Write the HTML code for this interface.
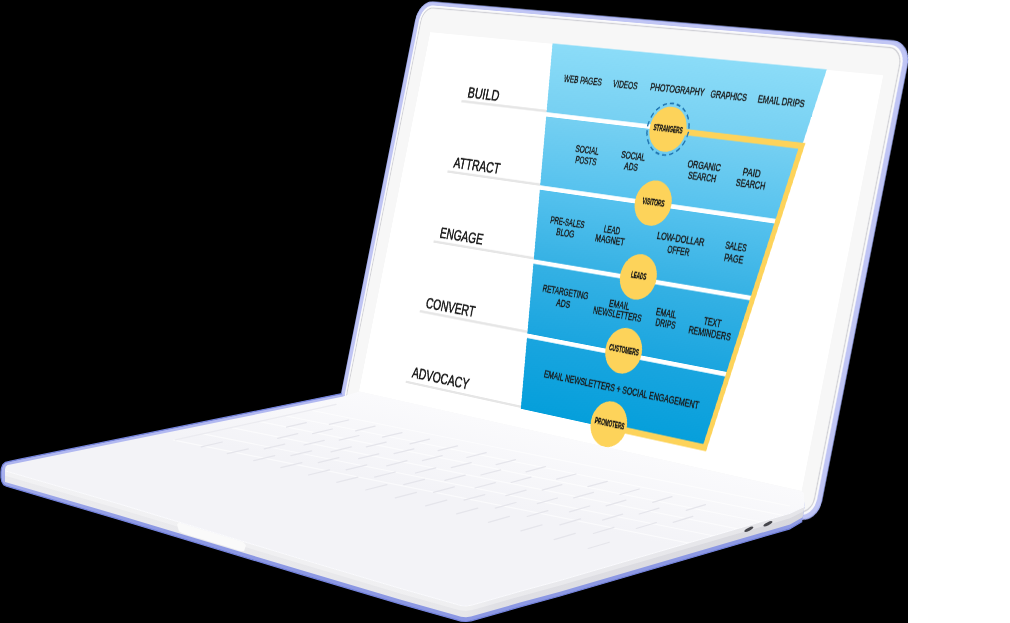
<!DOCTYPE html>
<html><head><meta charset="utf-8"><style>
html,body{margin:0;padding:0;width:1010px;height:623px;overflow:hidden;background:#fff}
#bgsvg,#basesvg{position:absolute;left:0;top:0}
#scr{position:absolute;left:0;top:0;width:920px;height:640px;transform-origin:0 0;transform:matrix3d(0.4120272573,0.04057232813,0,-0.0001678867163,-0.1423758421,0.7096603439,0,-3.459271089e-06,0,0,1,0,409.6971044,-13.14500077,0,1)}
</style></head><body>
<svg id="bgsvg" width="1010" height="623"><rect x="0" y="0" width="908" height="623" fill="#000"/></svg>
<div id="scr"><svg width="920" height="640" viewBox="0 0 920 640" style="font-family:'Liberation Sans',sans-serif"><rect x="24.5" y="17.5" width="869" height="576" rx="28" fill="#a3adee"/><rect x="26" y="19" width="866" height="573" rx="27" fill="#c0c5f4"/><rect x="32.5" y="23" width="853" height="565" rx="23" fill="#fafafb"/><rect x="36.5" y="26.5" width="845" height="558" rx="20" fill="#f7f7f7" stroke="#d0d0d5" stroke-width="1.7"/><rect x="60" y="60" width="800" height="500" fill="#ffffff"/><defs><linearGradient id="bg" gradientUnits="userSpaceOnUse" x1="0" y1="60" x2="0" y2="536"><stop offset="0" stop-color="#8bdcf8"/><stop offset="0.195" stop-color="#76d0f2"/><stop offset="0.397" stop-color="#56c2ee"/><stop offset="0.6" stop-color="#35b1e4"/><stop offset="0.8" stop-color="#1aa5df"/><stop offset="1" stop-color="#059fdb"/></linearGradient></defs><line x1="148.5" y1="148.8" x2="315.27092288242727" y2="148.8" stroke="#e6e6e6" stroke-width="3.2"/><line x1="148.5" y1="245.3" x2="330.2359460598399" y2="245.3" stroke="#e6e6e6" stroke-width="3.2"/><line x1="148.5" y1="341.3" x2="345.1234302570586" y2="341.3" stroke="#e6e6e6" stroke-width="3.2"/><line x1="148.5" y1="436.9" x2="359.9488832701222" y2="436.9" stroke="#e6e6e6" stroke-width="3.2"/><line x1="148.5" y1="533.5" x2="374.92941424357355" y2="533.5" stroke="#e6e6e6" stroke-width="3.2"/><polygon points="299.5,59.5 772.3,59.5 695.7,536.0 373.3,536.0" fill="url(#bg)"/><line x1="312.9377581120944" y1="153.1" x2="533" y2="153.1" stroke="#ffffff" stroke-width="5.8"/><line x1="327.8252423093131" y1="249.1" x2="741.8548999999999" y2="249.1" stroke="#ffffff" stroke-width="5.8"/><line x1="342.80577328276445" y1="345.7" x2="726.3023" y2="345.7" stroke="#ffffff" stroke-width="5.8"/><line x1="357.72427307206067" y1="441.9" x2="710.8140999999999" y2="441.9" stroke="#ffffff" stroke-width="5.8"/><polygon points="533.0,150.8 761.6,150.8 700.5,538.5 532.0,538.5 532.0,530.6 694.0,530.6 752.2,158.5 533.0,158.5" fill="#fdd35a"/><ellipse cx="533.6" cy="153.7" rx="35.5" ry="33" fill="none" stroke="#1f74b0" stroke-width="2.2" stroke-dasharray="7 5"/><ellipse cx="533.6" cy="153.7" rx="31.5" ry="28.8" fill="#fdd35a"/><ellipse cx="533.2" cy="248.3" rx="31.5" ry="28.8" fill="#fdd35a"/><ellipse cx="532.8" cy="342.9" rx="31.5" ry="28.8" fill="#fdd35a"/><ellipse cx="532.6" cy="437.4" rx="31.5" ry="28.8" fill="#fdd35a"/><ellipse cx="532.0" cy="531.4" rx="31.5" ry="28.8" fill="#fdd35a"/><text x="157.8" y="143" font-size="20.5" font-weight="400" textLength="61.6" lengthAdjust="spacingAndGlyphs" fill="#1a1a1a" stroke="#1a1a1a" stroke-width="0.7">BUILD</text><text x="157.8" y="239" font-size="20.5" font-weight="400" textLength="90.0" lengthAdjust="spacingAndGlyphs" fill="#1a1a1a" stroke="#1a1a1a" stroke-width="0.7">ATTRACT</text><text x="157.8" y="335" font-size="20.5" font-weight="400" textLength="84.6" lengthAdjust="spacingAndGlyphs" fill="#1a1a1a" stroke="#1a1a1a" stroke-width="0.7">ENGAGE</text><text x="157.8" y="431" font-size="20.5" font-weight="400" textLength="96.3" lengthAdjust="spacingAndGlyphs" fill="#1a1a1a" stroke="#1a1a1a" stroke-width="0.7">CONVERT</text><text x="157.8" y="526" font-size="20.5" font-weight="400" textLength="112.0" lengthAdjust="spacingAndGlyphs" fill="#1a1a1a" stroke="#1a1a1a" stroke-width="0.7">ADVOCACY</text><text x="333.6" y="108" font-size="12.5" font-weight="400" textLength="69.1" lengthAdjust="spacingAndGlyphs" fill="#1a1a1a" stroke="#1a1a1a" stroke-width="0.5">WEB PAGES</text><text x="423.3" y="108" font-size="12.5" font-weight="400" textLength="43.6" lengthAdjust="spacingAndGlyphs" fill="#1a1a1a" stroke="#1a1a1a" stroke-width="0.5">VIDEOS</text><text x="489.5" y="107.5" font-size="12.5" font-weight="400" textLength="93.6" lengthAdjust="spacingAndGlyphs" fill="#1a1a1a" stroke="#1a1a1a" stroke-width="0.5">PHOTOGRAPHY</text><text x="593.7" y="108" font-size="12.5" font-weight="400" textLength="60.8" lengthAdjust="spacingAndGlyphs" fill="#1a1a1a" stroke="#1a1a1a" stroke-width="0.5">GRAPHICS</text><text x="672.8" y="108" font-size="12.5" font-weight="400" textLength="75.6" lengthAdjust="spacingAndGlyphs" fill="#1a1a1a" stroke="#1a1a1a" stroke-width="0.5">EMAIL DRIPS</text><text x="379.3" y="197.5" font-size="12.5" font-weight="400" textLength="42.3" lengthAdjust="spacingAndGlyphs" fill="#1a1a1a" stroke="#1a1a1a" stroke-width="0.5">SOCIAL</text><text x="383.0" y="211" font-size="12.5" font-weight="400" textLength="38.3" lengthAdjust="spacingAndGlyphs" fill="#1a1a1a" stroke="#1a1a1a" stroke-width="0.5">POSTS</text><text x="462.3" y="197.5" font-size="12.5" font-weight="400" textLength="42.2" lengthAdjust="spacingAndGlyphs" fill="#1a1a1a" stroke="#1a1a1a" stroke-width="0.5">SOCIAL</text><text x="471.6" y="211" font-size="12.5" font-weight="400" textLength="23.8" lengthAdjust="spacingAndGlyphs" fill="#1a1a1a" stroke="#1a1a1a" stroke-width="0.5">ADS</text><text x="578.4" y="198" font-size="12.5" font-weight="400" textLength="56.1" lengthAdjust="spacingAndGlyphs" fill="#1a1a1a" stroke="#1a1a1a" stroke-width="0.5">ORGANIC</text><text x="583.0" y="212.5" font-size="12.5" font-weight="400" textLength="47.1" lengthAdjust="spacingAndGlyphs" fill="#1a1a1a" stroke="#1a1a1a" stroke-width="0.5">SEARCH</text><text x="671.2" y="199.5" font-size="12.5" font-weight="400" textLength="29.5" lengthAdjust="spacingAndGlyphs" fill="#1a1a1a" stroke="#1a1a1a" stroke-width="0.5">PAID</text><text x="663.8" y="213" font-size="12.5" font-weight="400" textLength="47.9" lengthAdjust="spacingAndGlyphs" fill="#1a1a1a" stroke="#1a1a1a" stroke-width="0.5">SEARCH</text><text x="359.6" y="293" font-size="12.5" font-weight="400" textLength="62.4" lengthAdjust="spacingAndGlyphs" fill="#1a1a1a" stroke="#1a1a1a" stroke-width="0.5">PRE-SALES</text><text x="374.3" y="306.7" font-size="12.5" font-weight="400" textLength="33.1" lengthAdjust="spacingAndGlyphs" fill="#1a1a1a" stroke="#1a1a1a" stroke-width="0.5">BLOG</text><text x="457.6" y="294" font-size="12.5" font-weight="400" textLength="28.6" lengthAdjust="spacingAndGlyphs" fill="#1a1a1a" stroke="#1a1a1a" stroke-width="0.5">LEAD</text><text x="445.6" y="307.5" font-size="12.5" font-weight="400" textLength="52.0" lengthAdjust="spacingAndGlyphs" fill="#1a1a1a" stroke="#1a1a1a" stroke-width="0.5">MAGNET</text><text x="551.1" y="292.3" font-size="12.5" font-weight="400" textLength="80.6" lengthAdjust="spacingAndGlyphs" fill="#1a1a1a" stroke="#1a1a1a" stroke-width="0.5">LOW-DOLLAR</text><text x="572.7" y="306.8" font-size="12.5" font-weight="400" textLength="37.5" lengthAdjust="spacingAndGlyphs" fill="#1a1a1a" stroke="#1a1a1a" stroke-width="0.5">OFFER</text><text x="666.7" y="291.5" font-size="12.5" font-weight="400" textLength="34.6" lengthAdjust="spacingAndGlyphs" fill="#1a1a1a" stroke="#1a1a1a" stroke-width="0.5">SALES</text><text x="668.8" y="306.2" font-size="12.5" font-weight="400" textLength="31.1" lengthAdjust="spacingAndGlyphs" fill="#1a1a1a" stroke="#1a1a1a" stroke-width="0.5">PAGE</text><text x="369.9" y="382.2" font-size="12.5" font-weight="400" textLength="83.5" lengthAdjust="spacingAndGlyphs" fill="#1a1a1a" stroke="#1a1a1a" stroke-width="0.5">RETARGETING</text><text x="399.4" y="397" font-size="12.5" font-weight="400" textLength="25.3" lengthAdjust="spacingAndGlyphs" fill="#1a1a1a" stroke="#1a1a1a" stroke-width="0.5">ADS</text><text x="492.0" y="386" font-size="12.5" font-weight="400" textLength="36.1" lengthAdjust="spacingAndGlyphs" fill="#1a1a1a" stroke="#1a1a1a" stroke-width="0.5">EMAIL</text><text x="467.1" y="398" font-size="12.5" font-weight="400" textLength="85.3" lengthAdjust="spacingAndGlyphs" fill="#1a1a1a" stroke="#1a1a1a" stroke-width="0.5">NEWSLETTERS</text><text x="574.2" y="386.4" font-size="12.5" font-weight="400" textLength="35.0" lengthAdjust="spacingAndGlyphs" fill="#1a1a1a" stroke="#1a1a1a" stroke-width="0.5">EMAIL</text><text x="577.0" y="399.5" font-size="12.5" font-weight="400" textLength="34.1" lengthAdjust="spacingAndGlyphs" fill="#1a1a1a" stroke="#1a1a1a" stroke-width="0.5">DRIPS</text><text x="656.0" y="387" font-size="12.5" font-weight="400" textLength="28.7" lengthAdjust="spacingAndGlyphs" fill="#1a1a1a" stroke="#1a1a1a" stroke-width="0.5">TEXT</text><text x="633.9" y="400.6" font-size="12.5" font-weight="400" textLength="70.5" lengthAdjust="spacingAndGlyphs" fill="#1a1a1a" stroke="#1a1a1a" stroke-width="0.5">REMINDERS</text><text x="402.7" y="490.2" font-size="12.5" font-weight="400" textLength="272.1" lengthAdjust="spacingAndGlyphs" fill="#1a1a1a" stroke="#1a1a1a" stroke-width="0.5">EMAIL NEWSLETTERS + SOCIAL ENGAGEMENT</text><text x="508.7" y="156.6" font-size="10" font-weight="700" textLength="50.3" lengthAdjust="spacingAndGlyphs" fill="#1a1a1a" stroke="#111" stroke-width="0.35">STRANGERS</text><text x="514.4" y="250.9" font-size="10" font-weight="700" textLength="38.4" lengthAdjust="spacingAndGlyphs" fill="#1a1a1a" stroke="#111" stroke-width="0.35">VISITORS</text><text x="519.7" y="345.5" font-size="10" font-weight="700" textLength="26.8" lengthAdjust="spacingAndGlyphs" fill="#1a1a1a" stroke="#111" stroke-width="0.35">LEADS</text><text x="507.0" y="440.4" font-size="10" font-weight="700" textLength="51.9" lengthAdjust="spacingAndGlyphs" fill="#1a1a1a" stroke="#111" stroke-width="0.35">CUSTOMERS</text><text x="507.2" y="534.2" font-size="10" font-weight="700" textLength="52.0" lengthAdjust="spacingAndGlyphs" fill="#1a1a1a" stroke="#111" stroke-width="0.35">PROMOTERS</text></svg></div>
<svg id="basesvg" width="1010" height="623">
<defs><linearGradient id="lavg" gradientUnits="userSpaceOnUse" x1="0" y1="450" x2="0" y2="530"><stop offset="0" stop-color="#b2b9f1"/><stop offset="1" stop-color="#8d99e4"/></linearGradient><clipPath id="topclip"><path d="M342.0,396.8 L359.3,391.6 L801.6,491.3 L803.8,493.0 L804.5,506.5 L790.0,513.3 L560.0,580.5 L520.0,591.4 L478.0,603.4 L471.0,605.3 L466.0,606.0 L461.0,605.6 L455.0,603.9 L400.0,588.4 L300.0,558.6 L120.0,504.2 L5.1,470.8 L5.0,469.5 L5.6,466.8 L7.5,465.0 L10.5,464.6 L100.0,446.3 L228.7,420.0 Z"/></clipPath><linearGradient id="topg" gradientUnits="userSpaceOnUse" x1="580" y1="441" x2="562" y2="522"><stop offset="0" stop-color="#fafafc"/><stop offset="1" stop-color="#f3f3f7"/></linearGradient><linearGradient id="sideg" gradientUnits="userSpaceOnUse" x1="0" y1="0" x2="800" y2="0"><stop offset="0" stop-color="#ebebee"/><stop offset="0.58" stop-color="#e7e7ea"/><stop offset="0.62" stop-color="#e0e0e5"/><stop offset="1" stop-color="#d8d8de"/></linearGradient></defs>
<path d="M342.0,393.6 L228.7,416.7 L100.0,442.9 L20.0,459.2 L9.6,461.4 L5.5,462.3 L2.8,464.8 L1.4,468.5 L1.0,472.0 L1.0,477.5 L1.8,481.5 L3.6,484.6 L6.5,486.2 L120.0,519.7 L300.0,574.1 L400.0,603.9 L455.0,619.4 L461.0,621.1 L466.0,621.5 L471.0,620.8 L478.0,618.9 L520.0,606.9 L560.0,596.0 L790.0,528.8 L802.2,521.5 L804.5,506.5 L803.5,496.0 L801.6,494.5 L359.3,395.0 L345.0,398.0 Z" fill="url(#lavg)"/>
<path d="M342.0,393.6 L228.7,416.7 L100.0,442.9 L20.0,459.2 L9.6,461.4 L5.5,462.3 L2.8,464.8 L1.4,468.5 L1.0,472.0 L1.0,477.5 L1.8,481.5 L3.6,484.6 L6.5,486.2 L120.0,519.7 L300.0,574.1 L400.0,603.9 L455.0,619.4 L461.0,621.1 L466.0,621.5 L471.0,620.8 L478.0,618.9 L520.0,606.9 L560.0,596.0 L790.0,528.8 L802.2,521.5" fill="none" stroke="#7483dc" stroke-width="1.2" stroke-linejoin="round"/>
<path d="M5.1,470.8 L120.0,504.2 L300.0,558.6 L400.0,588.4 L455.0,603.9 L461.0,605.6 L466.0,606.0 L471.0,605.3 L478.0,603.4 L520.0,591.4 L560.0,580.5 L790.0,513.3 L804.5,506.5 L802.7,517.2 L790.0,524.5 L560.0,591.7 L520.0,602.6 L478.0,614.6 L471.0,616.5 L466.0,617.2 L461.0,616.8 L455.0,615.1 L400.0,599.6 L300.0,569.8 L120.0,515.4 L5.1,482.0 L5.0,480.9 L5.0,471.5 Z" fill="url(#sideg)"/>
<path d="M5.1,470.8 L120.0,504.2 L300.0,558.6 L400.0,588.4 L455.0,603.9 L461.0,605.6 L466.0,606.0 L471.0,605.3 L478.0,603.4 L520.0,591.4 L560.0,580.5 L790.0,513.3 L804.5,506.5 L803.7,511.3 L790.0,518.3 L560.0,585.5 L520.0,596.4 L478.0,608.4 L471.0,610.3 L466.0,611.0 L461.0,610.6 L455.0,608.9 L400.0,593.4 L300.0,563.6 L120.0,509.2 L5.1,475.8 L5.0,475.3 L5.0,471.5 Z" fill="#ffffff" fill-opacity="0.35"/>
<path d="M179.0,522.6 L183.0,523.8 L187.0,525.0 L191.0,526.3 L195.0,527.5 L199.0,528.7 L203.0,529.9 L207.0,531.1 L211.0,532.3 L215.0,533.5 L219.0,534.7 L223.0,535.9 L227.0,537.1 L231.0,538.3 L235.0,539.6 L239.0,540.8 L243.0,542.0 L246.0,545.3 L244.0,551.2 L240.0,550.7 L236.0,549.5 L232.0,548.2 L228.0,547.0 L224.0,545.8 L220.0,544.6 L216.0,543.4 L212.0,542.2 L208.0,541.0 L204.0,539.8 L200.0,538.6 L196.0,537.4 L192.0,536.2 L188.0,535.0 L184.0,533.7 L179.0,531.5 L177.0,524.4 Z" fill="#fafafa"/>
<path d="M342.0,396.8 L359.3,391.6 L801.6,491.3 L803.8,493.0 L804.5,506.5 L790.0,513.3 L560.0,580.5 L520.0,591.4 L478.0,603.4 L471.0,605.3 L466.0,606.0 L461.0,605.6 L455.0,603.9 L400.0,588.4 L300.0,558.6 L120.0,504.2 L5.1,470.8 L5.0,469.5 L5.6,466.8 L7.5,465.0 L10.5,464.6 L100.0,446.3 L228.7,420.0 Z" fill="url(#topg)"/>
<path d="M5.1,470.8 L120.0,504.2 L300.0,558.6 L400.0,588.4 L455.0,603.9 L461.0,605.6 L466.0,606.0 L471.0,605.3 L478.0,603.4 L520.0,591.4 L560.0,580.5 L790.0,513.3 L804.5,506.5" fill="none" stroke="#fcfcfd" stroke-width="1"/>
<g stroke="#e5e5eb" stroke-width="1.2" stroke-linecap="round"><g stroke="#ffffff" stroke-width="1.2" stroke-opacity="0.6" clip-path="url(#topclip)"><line x1="312.4" y1="410.5" x2="790" y2="506.0"/><line x1="286.2" y1="416.0" x2="790" y2="516.8"/><line x1="259.9" y1="421.7" x2="790" y2="527.7"/><line x1="231.8" y1="427.7" x2="790" y2="539.3"/><line x1="203.0" y1="433.8" x2="790" y2="551.2"/><line x1="173.8" y1="440.1" x2="790" y2="563.3"/></g><line x1="348.7" y1="420.0" x2="329.3" y2="424.4"/><line x1="375.1" y1="426.2" x2="355.6" y2="430.8"/><line x1="402.0" y1="432.6" x2="382.5" y2="437.2"/><line x1="429.5" y1="439.2" x2="410.0" y2="443.9"/><line x1="457.6" y1="445.8" x2="438.1" y2="450.6"/><line x1="486.2" y1="452.6" x2="466.8" y2="457.5"/><line x1="515.5" y1="459.6" x2="496.1" y2="464.6"/><line x1="545.4" y1="466.7" x2="526.0" y2="471.8"/><line x1="576.0" y1="474.0" x2="556.6" y2="479.2"/><line x1="607.3" y1="481.4" x2="587.9" y2="486.7"/><line x1="639.3" y1="489.0" x2="620.0" y2="494.5"/><line x1="672.0" y1="496.7" x2="652.7" y2="502.3"/><line x1="705.5" y1="504.7" x2="686.2" y2="510.4"/><line x1="306.3" y1="422.7" x2="286.5" y2="427.2"/><line x1="332.4" y1="429.0" x2="312.6" y2="433.6"/><line x1="359.0" y1="435.5" x2="339.2" y2="440.1"/><line x1="386.2" y1="442.1" x2="366.3" y2="446.8"/><line x1="413.9" y1="448.8" x2="394.0" y2="453.6"/><line x1="442.2" y1="455.7" x2="422.4" y2="460.6"/><line x1="471.2" y1="462.7" x2="451.3" y2="467.7"/><line x1="500.7" y1="469.8" x2="480.9" y2="475.0"/><line x1="531.0" y1="477.2" x2="511.2" y2="482.5"/><line x1="561.9" y1="484.7" x2="542.1" y2="490.1"/><line x1="593.5" y1="492.3" x2="573.7" y2="497.9"/><line x1="625.9" y1="500.2" x2="606.1" y2="505.8"/><line x1="659.0" y1="508.2" x2="639.2" y2="514.0"/><line x1="692.8" y1="516.4" x2="673.2" y2="522.4"/><line x1="297.8" y1="433.7" x2="277.6" y2="438.3"/><line x1="324.3" y1="440.3" x2="304.0" y2="445.0"/><line x1="351.3" y1="446.9" x2="331.0" y2="451.8"/><line x1="378.8" y1="453.8" x2="358.6" y2="458.7"/><line x1="407.0" y1="460.7" x2="386.7" y2="465.8"/><line x1="435.8" y1="467.9" x2="415.5" y2="473.0"/><line x1="465.2" y1="475.2" x2="444.9" y2="480.4"/><line x1="495.3" y1="482.6" x2="475.0" y2="488.0"/><line x1="526.1" y1="490.2" x2="505.8" y2="495.7"/><line x1="557.5" y1="498.0" x2="537.3" y2="503.7"/><line x1="589.7" y1="506.0" x2="569.5" y2="511.8"/><line x1="622.7" y1="514.2" x2="602.5" y2="520.1"/><line x1="656.4" y1="522.5" x2="636.3" y2="528.5"/><line x1="284.8" y1="444.1" x2="264.2" y2="448.8"/><line x1="311.6" y1="450.8" x2="290.9" y2="455.7"/><line x1="338.9" y1="457.7" x2="318.2" y2="462.7"/><line x1="366.8" y1="464.8" x2="346.1" y2="469.9"/><line x1="395.3" y1="472.0" x2="374.6" y2="477.2"/><line x1="424.5" y1="479.4" x2="403.7" y2="484.7"/><line x1="454.3" y1="486.9" x2="433.5" y2="492.4"/><line x1="484.8" y1="494.7" x2="464.0" y2="500.2"/><line x1="516.0" y1="502.5" x2="495.2" y2="508.2"/><line x1="547.9" y1="510.6" x2="527.2" y2="516.5"/><line x1="580.6" y1="518.9" x2="559.9" y2="524.9"/><line x1="614.0" y1="527.4" x2="593.4" y2="533.5"/><line x1="222.3" y1="442.0" x2="201.2" y2="446.8"/><line x1="248.3" y1="448.8" x2="227.2" y2="453.6"/><line x1="274.8" y1="455.6" x2="253.7" y2="460.6"/><line x1="301.9" y1="462.6" x2="280.8" y2="467.7"/><line x1="329.6" y1="469.8" x2="308.5" y2="475.0"/><line x1="357.9" y1="477.1" x2="336.8" y2="482.4"/><line x1="386.9" y1="484.6" x2="365.7" y2="490.0"/><line x1="416.5" y1="492.3" x2="395.3" y2="497.8"/><line x1="446.8" y1="500.1" x2="425.6" y2="505.8"/><line x1="477.8" y1="508.1" x2="456.6" y2="513.9"/><line x1="509.5" y1="516.4" x2="488.4" y2="522.3"/><line x1="542.0" y1="524.8" x2="520.9" y2="530.8"/><line x1="575.3" y1="533.4" x2="554.1" y2="539.6"/><line x1="609.3" y1="542.2" x2="588.2" y2="548.5"/><line x1="336.1" y1="404.4" x2="175.2" y2="439.9" stroke="#ebebf0"/></g>
<ellipse cx="748.8" cy="529.3" rx="5" ry="1.5" fill="#46464c" transform="rotate(-27 748.8 529.3)"/>
<ellipse cx="767.9" cy="523.8" rx="5" ry="1.5" fill="#46464c" transform="rotate(-27 767.9 523.8)"/>
</svg>
</body></html>
